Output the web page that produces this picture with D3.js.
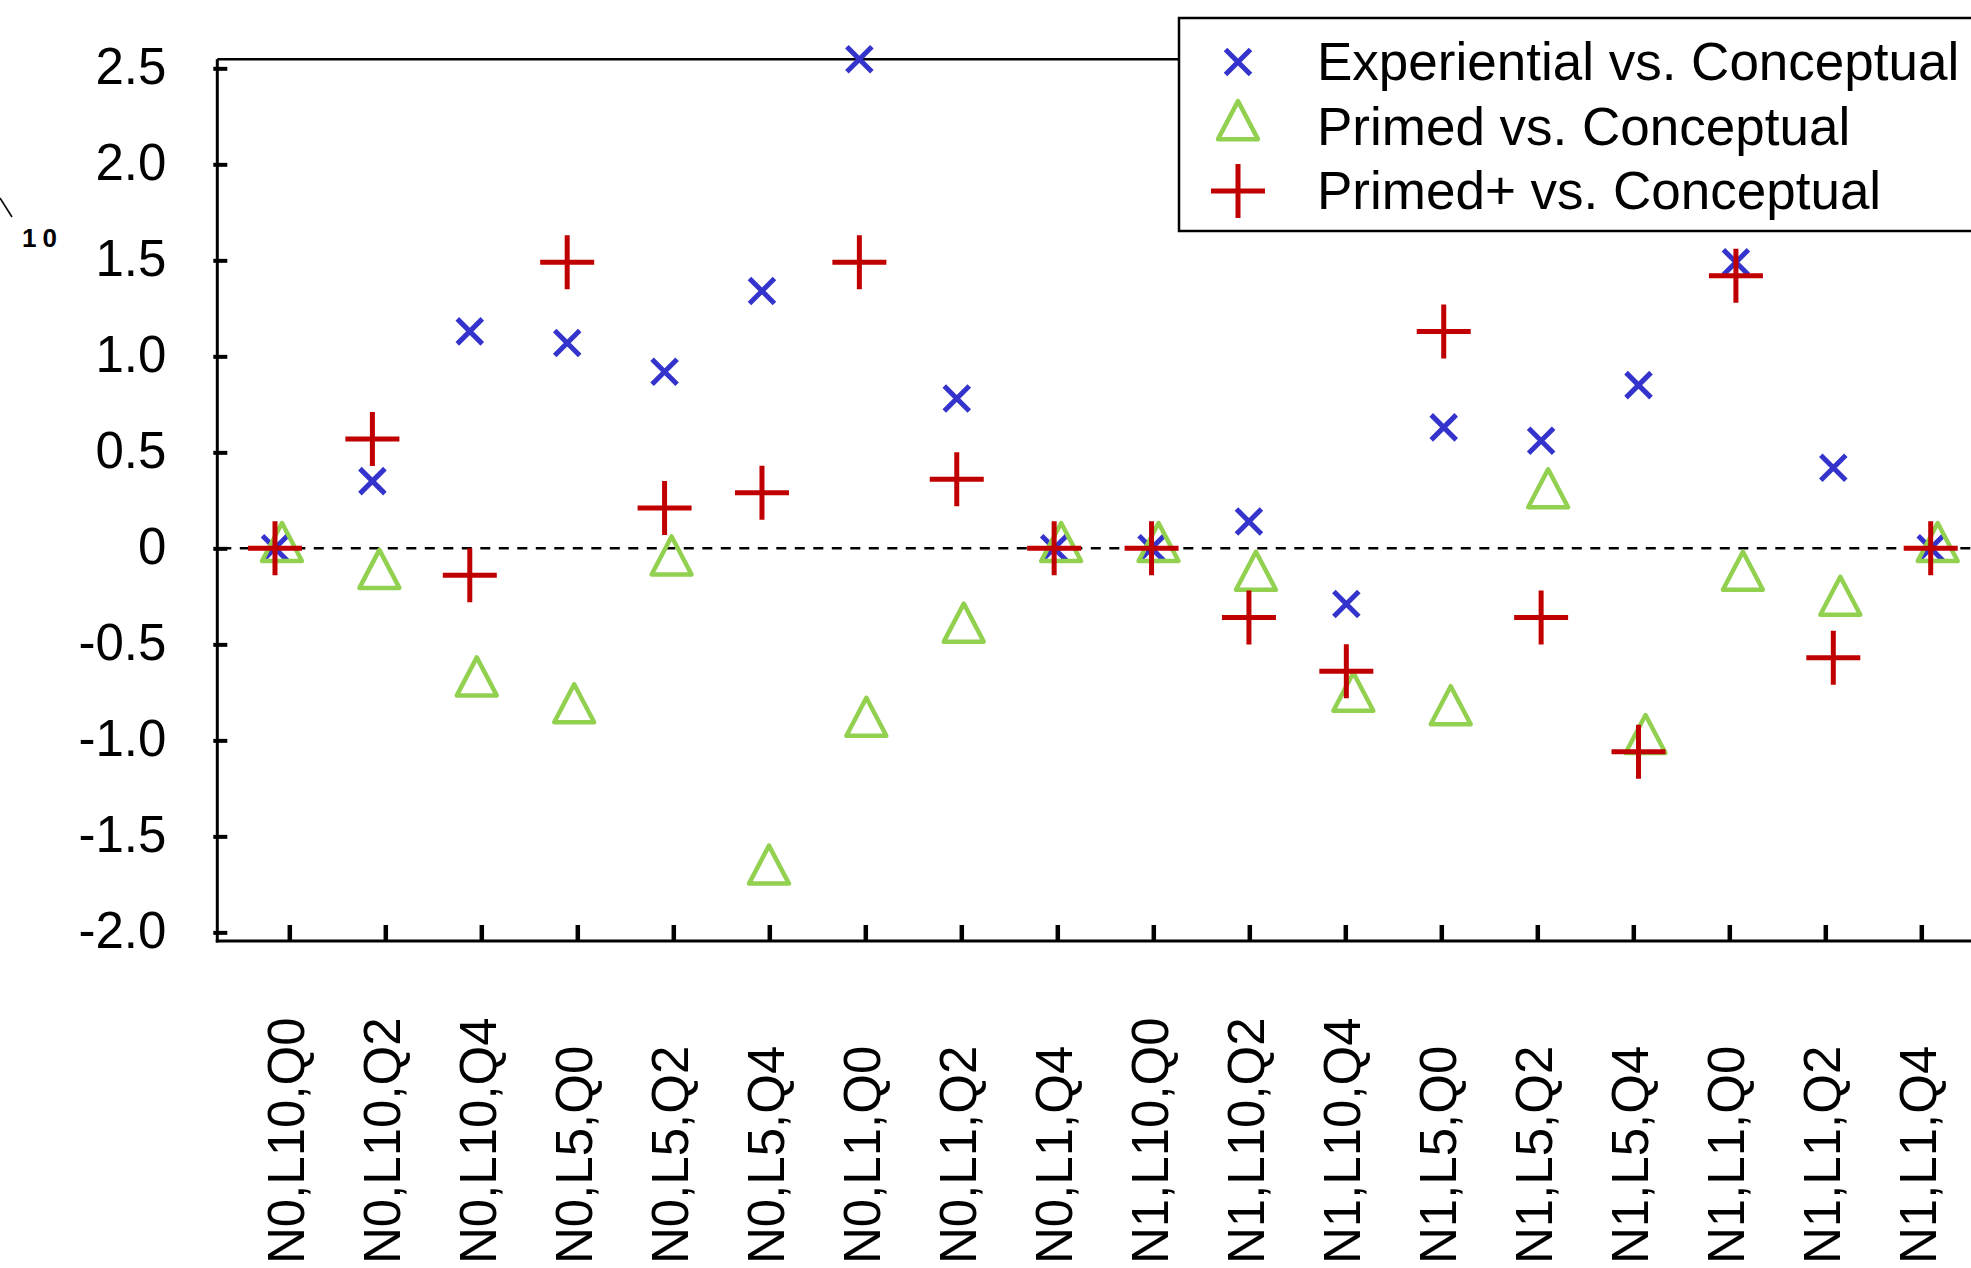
<!DOCTYPE html>
<html>
<head>
<meta charset="utf-8">
<script src="https://cdn.jsdelivr.net/npm/d3@7"></script>
<style>
  body { margin: 0; background: #fff; }
  svg { display: block; }
</style>
</head>
<body>
<svg id="chart"></svg>
<script>
// categories along the x axis
const categories = [
    "N0,L10,Q0", "N0,L10,Q2", "N0,L10,Q4",
    "N0,L5,Q0", "N0,L5,Q2", "N0,L5,Q4",
    "N0,L1,Q0", "N0,L1,Q2", "N0,L1,Q4",
    "N1,L10,Q0", "N1,L10,Q2", "N1,L10,Q4",
    "N1,L5,Q0", "N1,L5,Q2", "N1,L5,Q4",
    "N1,L1,Q0", "N1,L1,Q2", "N1,L1,Q4"
];

// series values
const experiential = [0, 0.35, 1.13, 1.07, 0.92, 1.34, 2.547, 0.78, 0,
                      0, 0.14, -0.29, 0.63, 0.56, 0.85, 1.49, 0.42, 0];
const primed       = [0, -0.14, -0.70, -0.84, -0.07, -1.68, -0.91, -0.42, 0,
                      0, -0.15, -0.78, -0.85, 0.28, -1.00, -0.15, -0.28, 0];
const primedPlus   = [0, 0.57, -0.14, 1.49, 0.21, 0.29, 1.49, 0.36, 0,
                      0, -0.36, -0.64, 1.13, -0.36, -1.06, 1.42, -0.57, 0];

const seriesNames = ["Experiential vs. Conceptual", "Primed vs. Conceptual", "Primed+ vs. Conceptual"];
const yTickValues = [-2, -1.5, -1, -0.5, 0, 0.5, 1, 1.5, 2, 2.5];
const yDomain = [-2.045, 2.547];

const W = 1971, H = 1268;
const FONT = '"Liberation Sans", Arial, Helvetica, sans-serif';
const BLUE = "#3434cd", GREEN = "#92d050", RED = "#c00000";

const svg = d3.select("#chart")
    .attr("width", W)
    .attr("height", H)
    .style("font-family", FONT);

const y = d3.scaleLinear().domain(yDomain).range([941, 59.3]);
// tick marks and markers sit on slightly different spacings in the original
const xTick = d3.scalePoint().domain(categories).range([289.3, 1921.3]);
const xMark = d3.scalePoint().domain(categories).range([275, 1930.7]);
const axisX = 217.3;

// plain hyphen for negatives, like the original
const fmt = d3.formatLocale({decimal: ".", thousands: ",", grouping: [3], currency: ["", ""], minus: "-"}).format(".1f");

// custom marker shapes (size = half extent)
const timesShape = {draw(ctx, r) { ctx.moveTo(-r, -r); ctx.lineTo(r, r); ctx.moveTo(-r, r); ctx.lineTo(r, -r); }};
const plusShape = {draw(ctx, r) { ctx.moveTo(-r, 0); ctx.lineTo(r, 0); ctx.moveTo(0, -r); ctx.lineTo(0, r); }};
const triShape = {draw(ctx, r) {
    // isoceles, centred on the centroid
    const w = r * 1.05, h = r * 2;
    ctx.moveTo(0, -h * 2 / 3); ctx.lineTo(w, h / 3); ctx.lineTo(-w, h / 3); ctx.closePath();
}};

const series = [
    {name: seriesNames[0], values: experiential, shape: timesShape, r: 12.5, color: BLUE, sw: 5, dx: 0},
    {name: seriesNames[1], values: primed, shape: triShape, r: 19, color: GREEN, sw: 4.5, dx: 7},
    {name: seriesNames[2], values: primedPlus, shape: plusShape, r: 27, color: RED, sw: 5, dx: 0}
];

// y-axis label fragment (mostly outside the picture)
svg.append("line")
    .attr("x1", 0).attr("y1", 198).attr("x2", 12).attr("y2", 217)
    .attr("stroke", "#000").attr("stroke-width", 1.5);
svg.append("text")
    .attr("x", 22).attr("y", 247)
    .attr("font-size", 26).attr("font-weight", "bold")
    .attr("letter-spacing", 6)
    .text("10");

// y axis ticks + labels
const yAxis = svg.append("g")
    .attr("transform", `translate(${axisX},0)`)
    .call(d3.axisLeft(y).tickValues(yTickValues).tickSize(0)
        .tickFormat(d => d === 0 ? "0" : fmt(d)));
yAxis.select(".domain").remove();
yAxis.selectAll(".tick line")
    .attr("x1", -4).attr("x2", 10)
    .attr("stroke", "#000").attr("stroke-width", 4);
yAxis.selectAll(".tick text")
    .attr("x", -51).attr("dy", "0.3em")
    .attr("font-size", 51).attr("font-family", FONT).attr("fill", "#000");

// x axis ticks + rotated labels
const xAxis = svg.append("g")
    .attr("transform", `translate(0,${y(yDomain[0])})`)
    .call(d3.axisBottom(xTick).tickSize(0).tickFormat(""));
xAxis.select(".domain").remove();
xAxis.selectAll(".tick line")
    .attr("y1", -16).attr("y2", 0)
    .attr("stroke", "#000").attr("stroke-width", 4.5);

svg.append("g")
    .selectAll("text")
    .data(categories)
    .join("text")
    .attr("transform", d => `translate(${xTick(d) + 15},1264) rotate(-90)`)
    .attr("font-size", 51)
    .attr("text-anchor", "start")
    .text(d => d);

// frame
svg.append("line")
    .attr("x1", axisX).attr("x2", axisX)
    .attr("y1", y(yDomain[1])).attr("y2", y(yDomain[0]) + 1.5)
    .attr("stroke", "#000").attr("stroke-width", 3);
svg.append("line")
    .attr("x1", axisX).attr("x2", W)
    .attr("y1", y(yDomain[1])).attr("y2", y(yDomain[1]))
    .attr("stroke", "#000").attr("stroke-width", 2.5);
svg.append("line")
    .attr("x1", axisX - 1.5).attr("x2", W)
    .attr("y1", y(yDomain[0])).attr("y2", y(yDomain[0]))
    .attr("stroke", "#000").attr("stroke-width", 3);

// zero reference line
svg.append("line")
    .attr("x1", axisX + 4).attr("x2", W)
    .attr("y1", y(0)).attr("y2", y(0))
    .attr("stroke", "#000").attr("stroke-width", 2.5)
    .attr("stroke-dasharray", "10,8.5");

// markers
series.forEach(s => {
    svg.append("g")
        .selectAll("path")
        .data(s.values)
        .join("path")
        .attr("transform", (v, i) => `translate(${xMark(categories[i]) + s.dx},${y(v)})`)
        .attr("d", d3.symbol(s.shape, s.r))
        .attr("fill", "none")
        .attr("stroke", s.color)
        .attr("stroke-width", s.sw)
        .attr("stroke-linejoin", "round");
});

// legend
const legend = svg.append("g");
legend.append("rect")
    .attr("x", 1179).attr("y", 18)
    .attr("width", W - 1179 + 10).attr("height", 213)
    .attr("fill", "#fff")
    .attr("stroke", "#000").attr("stroke-width", 2.5);

const rowY = d3.scalePoint().domain(seriesNames).range([62, 191]);
series.forEach(s => {
    legend.append("path")
        .attr("transform", `translate(1238,${rowY(s.name)})`)
        .attr("d", d3.symbol(s.shape, s.r))
        .attr("fill", "none")
        .attr("stroke", s.color)
        .attr("stroke-width", s.sw)
        .attr("stroke-linejoin", "round");
    legend.append("text")
        .attr("x", 1317).attr("y", rowY(s.name) + 18)
        .attr("font-size", 53)
        .text(s.name);
});
</script>
</body>
</html>
